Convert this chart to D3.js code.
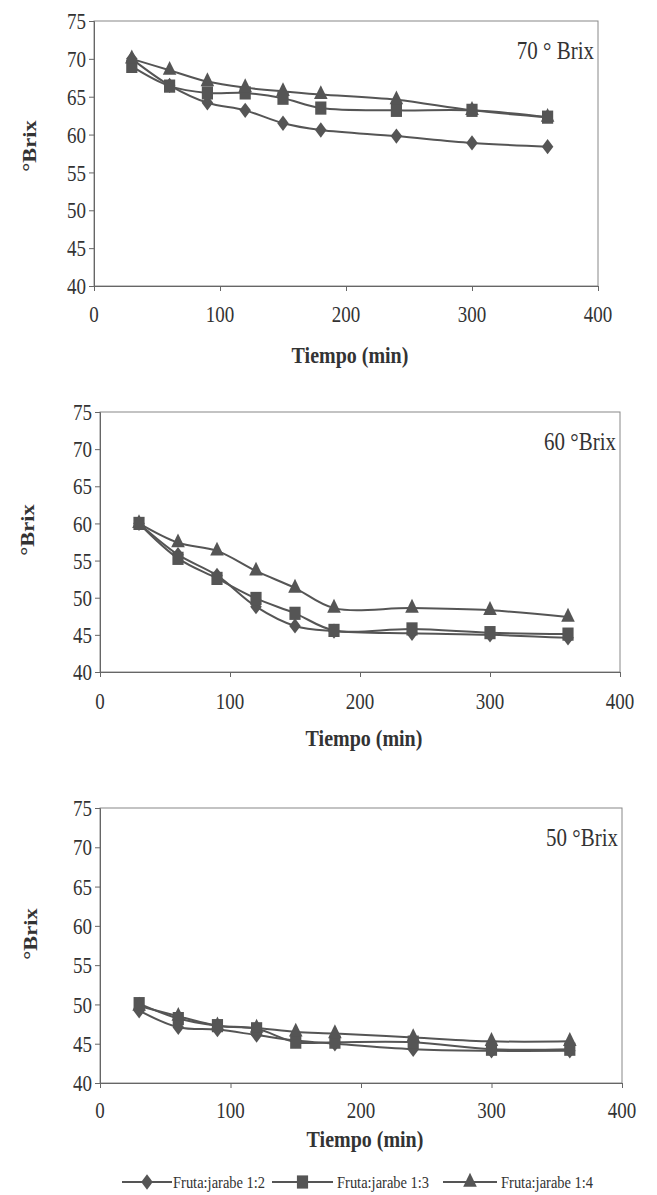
<!DOCTYPE html>
<html><head><meta charset="utf-8">
<script src="https://cdn.jsdelivr.net/npm/d3@7"></script>
<style>body{margin:0;background:#fff}</style>
</head><body>
<script>
// ---- data ----
const tiempo = [30, 60, 90, 120, 150, 180, 240, 300, 360];
const xTicks = [0, 100, 200, 300, 400];
const yTicks = [40, 45, 50, 55, 60, 65, 70, 75];
const seriesNames = ["Fruta:jarabe 1:2", "Fruta:jarabe 1:3", "Fruta:jarabe 1:4"];
const panelLabels = ["70 ° Brix", "60 °Brix", "50 °Brix"];
const xTitle = "Tiempo (min)";
const yTitle = "°Brix";

const brix70_12 = [70.0, 66.5, 64.2, 63.2, 61.5, 60.6, 59.8, 58.9, 58.4];
const brix70_13 = [69.0, 66.4, 65.5, 65.5, 64.8, 63.5, 63.2, 63.2, 62.3];
const brix70_14 = [70.0, 68.5, 67.0, 66.2, 65.7, 65.3, 64.6, 63.2, 62.3];

const brix60_12 = [60.0, 55.8, 53.0, 48.8, 46.2, 45.5, 45.2, 45.0, 44.6];
const brix60_13 = [60.0, 55.3, 52.6, 49.9, 47.9, 45.6, 45.8, 45.3, 45.1];
const brix60_14 = [60.0, 57.4, 56.3, 53.6, 51.3, 48.6, 48.6, 48.3, 47.4];

const brix50_12 = [49.2, 47.1, 46.8, 46.1, 45.4, 45.0, 44.3, 44.1, 44.1];
const brix50_13 = [50.1, 48.2, 47.3, 46.9, 45.2, 45.2, 45.2, 44.3, 44.3];
const brix50_14 = [49.8, 48.5, 47.3, 47.0, 46.5, 46.3, 45.8, 45.3, 45.3];

const panelsData = [
  [brix70_12, brix70_13, brix70_14],
  [brix60_12, brix60_13, brix60_14],
  [brix50_12, brix50_13, brix50_14]
];

// ---- layout ----
const W = 657, H = 1195;
const boxes = [
  {left: 94, right: 598, top: 21, bottom: 286, tickOff: 28, titleOff: 69, yTitleX: 29, yTitleY: 146},
  {left: 100, right: 620, top: 412, bottom: 672, tickOff: 29, titleOff: 66, yTitleX: 27, yTitleY: 530},
  {left: 100, right: 622, top: 808, bottom: 1083, tickOff: 27, titleOff: 56, yTitleX: 30, yTitleY: 934}
];
const ink = "#555";
const txt = "#333";
const font = "'Liberation Serif', 'Times New Roman', serif";
const SY = 1.18; // vertical stretch of the scanned page

const svg = d3.select("body").append("svg").attr("width", W).attr("height", H)
  .style("font-family", font);

const diamond = { draw(ctx, size) { const h = Math.sqrt(size) * 0.62, w = Math.sqrt(size) * 0.55;
  ctx.moveTo(0, -h); ctx.lineTo(w, 0); ctx.lineTo(0, h); ctx.lineTo(-w, 0); ctx.closePath(); } };
const symbols = [diamond, d3.symbolSquare, d3.symbolTriangle];
const symSizes = [110, 125, 80];

function stretchedText(g, x, y, str, opts) {
  return g.append("text")
    .attr("transform", `translate(${x},${y}) scale(1,${SY})` + (opts.rotate ? ` rotate(${opts.rotate})` : ""))
    .attr("text-anchor", opts.anchor || "middle")
    .attr("dominant-baseline", "central")
    .attr("font-size", opts.size)
    .attr("font-weight", opts.weight || "normal")
    .attr("fill", txt)
    .text(str);
}

boxes.forEach((b, pi) => {
  const x = d3.scaleLinear().domain([0, 400]).range([b.left, b.right]);
  const y = d3.scaleLinear().domain([40, 75]).range([b.bottom, b.top]);
  const g = svg.append("g");

  g.append("rect").attr("x", b.left).attr("y", b.top)
    .attr("width", b.right - b.left).attr("height", b.bottom - b.top)
    .attr("fill", "none").attr("stroke", "#888").attr("stroke-width", 1);

  const xa = g.append("g").attr("transform", `translate(0,${b.bottom})`)
    .call(d3.axisBottom(x).tickValues(xTicks).tickSize(5).tickFormat(""));
  const ya = g.append("g").attr("transform", `translate(${b.left},0)`)
    .call(d3.axisLeft(y).tickValues(yTicks).tickSize(5).tickFormat(""));
  [xa, ya].forEach(a => {
    a.select(".domain").attr("stroke", "#666");
    a.selectAll(".tick line").attr("stroke", "#666");
  });

  xTicks.forEach(v => stretchedText(g, x(v), b.bottom + b.tickOff, String(v), {size: 19}));
  yTicks.forEach(v => stretchedText(g, b.left - 8, y(v), String(v), {size: 19, anchor: "end"}));

  stretchedText(g, (b.left + b.right) / 2 + 4, b.bottom + b.titleOff, xTitle, {size: 20, weight: "bold"});
  stretchedText(g, b.yTitleX, b.yTitleY, yTitle, {size: 19, weight: "bold", rotate: -90});
  stretchedText(g, b.right - 4, b.top + 30, panelLabels[pi], {size: 21, anchor: "end"});

  const line = d3.line().x((d, i) => x(tiempo[i])).y(d => y(d)).curve(d3.curveCatmullRom.alpha(0.5));
  panelsData[pi].forEach(vals => {
    g.append("path").attr("d", line(vals)).attr("fill", "none")
      .attr("stroke", ink).attr("stroke-width", 2);
  });
  panelsData[pi].forEach((vals, si) => {
    g.selectAll(null).data(vals).enter().append("path")
      .attr("d", d3.symbol().type(symbols[si]).size(symSizes[si]))
      .attr("transform", (d, i) => `translate(${x(tiempo[i])},${y(d)}) scale(1,${SY})`)
      .attr("fill", ink);
  });
});

// ---- legend ----
const lg = svg.append("g");
const legY = 1182;
const legLines = [[122, 172], [272, 333], [443, 497]];
seriesNames.forEach((name, si) => {
  const [a, c] = legLines[si];
  lg.append("line").attr("x1", a).attr("x2", c).attr("y1", legY).attr("y2", legY)
    .attr("stroke", ink).attr("stroke-width", 2);
  lg.append("path").attr("d", d3.symbol().type(symbols[si]).size(symSizes[si]))
    .attr("transform", `translate(${(a + c) / 2},${legY}) scale(1,${SY})`).attr("fill", ink);
  stretchedText(lg, c + (si === 0 ? 1 : 4), legY, name, {size: 14.5, anchor: "start"});
});
</script>
</body></html>
